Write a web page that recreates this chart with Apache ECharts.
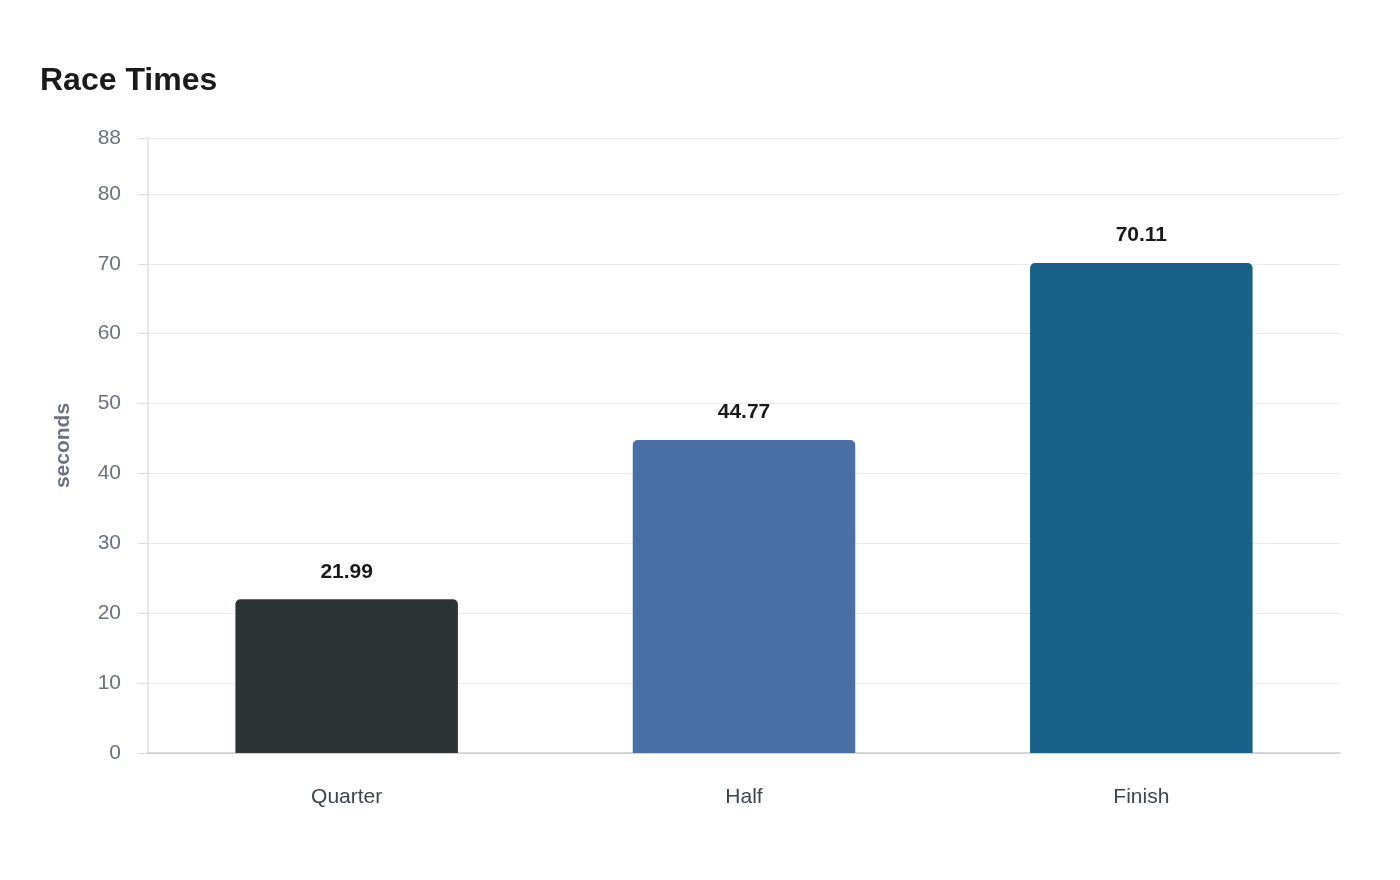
<!DOCTYPE html>
<html>
<head>
<meta charset="utf-8">
<script src="https://cdn.jsdelivr.net/npm/echarts@6/dist/echarts.min.js"></script>
<style>html,body{margin:0;padding:0;background:#fff}#c{width:1400px;height:880px}</style>
</head>
<body>
<div id="c"></div>
<script>
const categories = ['Quarter', 'Half', 'Finish'];
const values = [21.99, 44.77, 70.11];
const barColors = ['#2d3436', '#4a6fa5', '#176087'];

const chart = echarts.init(document.getElementById('c'));
chart.setOption({
  animation: false,
  textStyle: { fontFamily: 'Liberation Sans, Arial, sans-serif' },
  title: {
    text: 'Race Times',
    left: 35, top: 60,
    textStyle: { fontSize: 32, fontWeight: 'bold', color: '#1a1a1a', fontFamily: 'Liberation Sans, Arial, sans-serif' }
  },
  grid: { left: 148, right: 60, top: 138, bottom: 127 },
  xAxis: {
    type: 'category',
    data: categories,
    axisLine: { show: true, lineStyle: { color: '#cccccc', width: 1.5 } },
    axisTick: { show: false },
    axisLabel: { fontSize: 21, color: '#3d4550', margin: 34 }
  },
  yAxis: {
    type: 'value',
    min: 0, max: 88, interval: 10,
    name: 'seconds',
    nameLocation: 'middle',
    nameGap: 74,
    nameRotate: 90,
    nameTextStyle: { fontSize: 21, fontWeight: 'bold', color: '#6b7280' },
    axisLine: { show: true, lineStyle: { color: '#e0e0e0', width: 1.5 } },
    axisTick: { show: true, inside: false, length: 10, lineStyle: { color: '#dddddd', width: 1 } },
    axisLabel: { fontSize: 21, color: '#6b7280', margin: 27, padding: [4, 0, 0, 0] },
    splitLine: { lineStyle: { color: '#ebebeb', width: 1 } }
  },
  series: [{
    type: 'bar',
    barWidth: '56%',
    data: values.map((v, i) => ({ value: v, itemStyle: { color: barColors[i] } })),
    itemStyle: { borderRadius: [5, 5, 0, 0] },
    label: {
      show: true, position: 'top', distance: 17,
      fontSize: 21, fontWeight: 'bold', color: '#1a1a1a',
      formatter: p => p.value.toFixed(2)
    }
  }]
});
</script>
</body>
</html>
